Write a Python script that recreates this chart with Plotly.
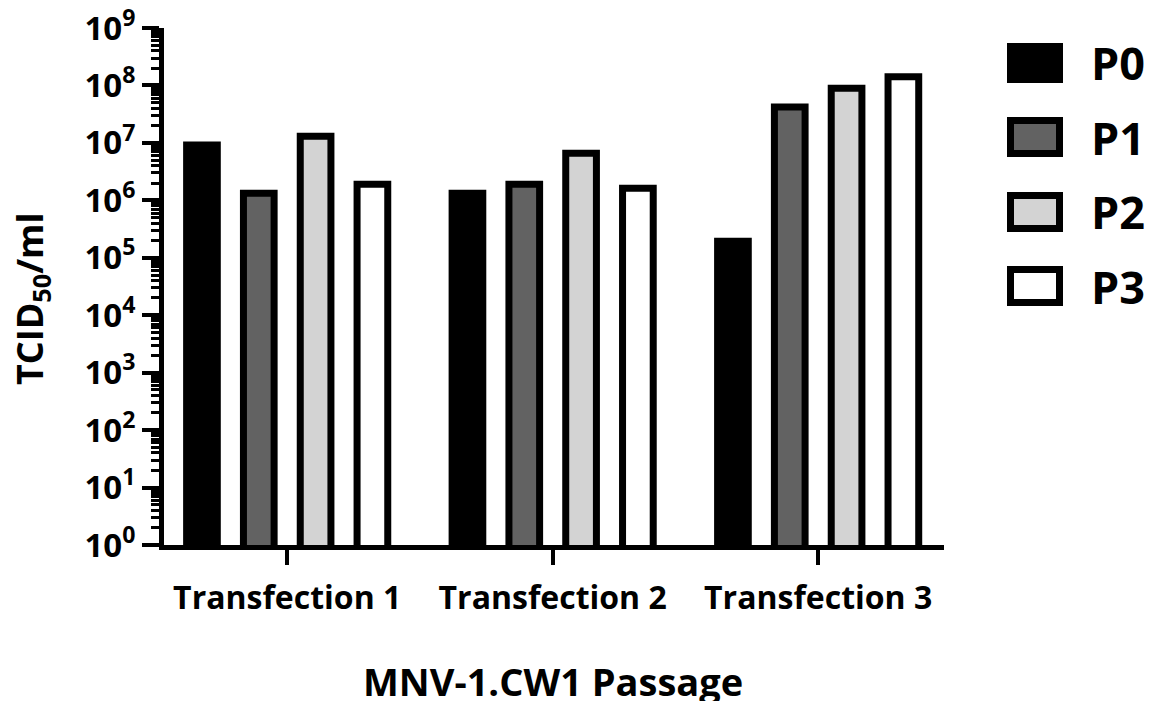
import plotly.graph_objects as go

# ---- data ----
categories = ["Transfection 1", "Transfection 2", "Transfection 3"]
series_names = ["P0", "P1", "P2", "P3"]
p0_values = [9.2e6, 1.33e6, 1.94e5]
p1_values = [1.33e6, 1.9e6, 4.2e7]
p2_values = [1.30e7, 6.6e6, 8.9e7]
p3_values = [1.9e6, 1.62e6, 1.42e8]
series_values = [p0_values, p1_values, p2_values, p3_values]
fill_colors = ["#000000", "#626262", "#d3d3d3", "#ffffff"]
y_tick_exponents = list(range(0, 10))
y_tick_labels = [f"10<sup>{e}</sup>" for e in y_tick_exponents]
y_title = "TCID<sub>50</sub>/ml"
x_title = "MNV-1.CW1 Passage"

FONT = "Open Sans"
W, H = 1152, 701
L, R, T, B = 164, 208, 28, 156

fig = go.Figure()
for name, vals, col in zip(series_names, series_values, fill_colors):
    fig.add_trace(go.Bar(
        x=categories, y=vals, name=name,
        marker=dict(color=col, line=dict(color="black", width=7)),
        showlegend=False,
    ))

minor_vals = [k * 10 ** e for e in range(0, 9) for k in range(2, 10)]

fig.update_layout(
    width=W, height=H,
    margin=dict(l=L, r=R, t=T, b=B, pad=0, autoexpand=False),
    paper_bgcolor="white", plot_bgcolor="white",
    barmode="group", bargap=0.144, bargroupgap=0.46,
    font=dict(family=FONT, color="black", weight="bold"),
    xaxis=dict(
        type="category", range=[-0.464, 2.474], automargin=False,
        showline=True, linewidth=5, linecolor="black",
        ticks="outside", ticklen=15, tickwidth=4, tickcolor="black",
        ticklabelstandoff=6,
        tickfont=dict(family=FONT, size=32, weight="bold"),
        showgrid=False, zeroline=False,
    ),
    yaxis=dict(
        type="log", range=[0, 9], automargin=False,
        tickmode="array", tickvals=[10 ** e for e in y_tick_exponents],
        ticktext=y_tick_labels,
        showline=True, linewidth=5, linecolor="black",
        ticks="outside", ticklen=17, tickwidth=4, tickcolor="black",
        minor=dict(tickmode="array", tickvals=minor_vals, ticks="outside",
                   ticklen=8, tickwidth=2.5, tickcolor="black", showgrid=False),
        tickfont=dict(family=FONT, size=33, weight="bold"),
        showgrid=False, zeroline=False,
    ),
)

pw = W - L - R
ph = H - T - B
def px(x):
    return (x - L) / pw
def py(y):
    return (H - B - y) / ph

# axis titles as annotations for exact placement
fig.add_annotation(xref="paper", yref="paper", x=px(31), y=py(299),
                   xanchor="center", yanchor="middle", textangle=-90,
                   text=y_title, showarrow=False,
                   font=dict(family=FONT, size=36, weight="bold", color="black"))
fig.add_annotation(xref="paper", yref="paper", x=px(553), y=py(681),
                   xanchor="center", yanchor="middle",
                   text=x_title, showarrow=False,
                   font=dict(family=FONT, size=38, weight="bold", color="black"))

# ---- manual legend (large swatches) ----
sw_x0, sw_x1 = 1010.5, 1059.5
row_tops = [46.5, 120.5, 195.5, 269.5]
sw_h = 33
for name, col, top in zip(series_names, fill_colors, row_tops):
    fig.add_shape(type="rect", xref="paper", yref="paper",
                  x0=px(sw_x0), x1=px(sw_x1), y0=py(top + sw_h), y1=py(top),
                  fillcolor=col, line=dict(color="black", width=7))
    fig.add_annotation(xref="paper", yref="paper", x=px(1089), y=py(top + sw_h / 2),
                       xanchor="left", yanchor="middle", text=name, showarrow=False,
                       font=dict(family=FONT, size=45, weight="bold", color="black"))

fig.write_html("out.html")
